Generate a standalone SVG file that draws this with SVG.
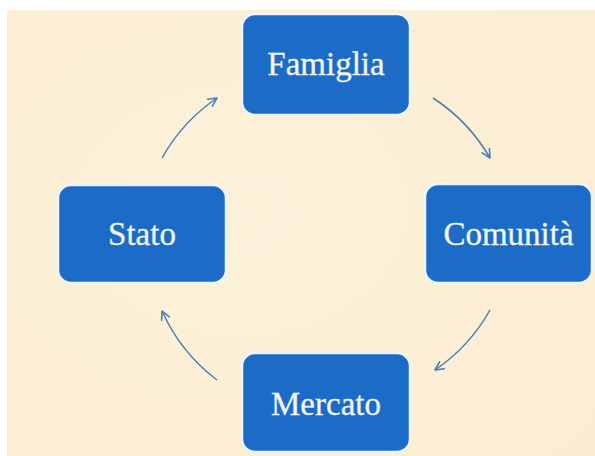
<svg xmlns="http://www.w3.org/2000/svg" width="595" height="456" viewBox="0 0 595 456">
  <defs>
    <radialGradient id="bgA" cx="0.4" cy="0.45" r="0.8">
      <stop offset="0" stop-color="#fcf1da"/>
      <stop offset="1" stop-color="#fbedd1"/>
    </radialGradient>
    <marker id="ah" viewBox="0 0 10 10" refX="9" refY="5" markerWidth="7" markerHeight="7" orient="auto" markerUnits="strokeWidth">
      <path d="M1,1 L9,5 L1,9" fill="none" stroke="#4a7cb8" stroke-width="1.5" stroke-linecap="round" stroke-linejoin="round"/>
    </marker>
  </defs>
  <style>
    .box { fill: #1c6cc7; stroke: #eef4fb; stroke-width: 2.5; }
    .lbl { font-family: "Liberation Serif", "DejaVu Serif", serif; font-size: 33px; fill: #f2f6fa; text-anchor: middle; stroke: #f2f6fa; stroke-width: 0.3; }
    .arr { fill: none; stroke: #4a7cb8; stroke-width: 1.5; marker-end: url(#ah); }
  </style>
  <rect x="0" y="0" width="595" height="456" fill="#ffffff"/>
  <rect x="7" y="10" width="588" height="446" fill="url(#bgA)"/>
  <g id="connectors">
    <path class="arr" d="M162,158 A178,178 0 0 1 217,98"/>
    <path class="arr" d="M433,98 A178,178 0 0 1 490,158"/>
    <path class="arr" d="M490,310 A178,178 0 0 1 435,370"/>
    <path class="arr" d="M217,380 A178,178 0 0 1 162,311"/>
  </g>
  <g id="famiglia">
    <rect class="box" x="242" y="14" width="168" height="101" rx="13"/>
    <text class="lbl" x="326" y="75">Famiglia</text>
  </g>
  <g id="comunita">
    <rect class="box" x="425" y="184" width="167" height="99" rx="13"/>
    <text class="lbl" x="508.5" y="245">Comunità</text>
  </g>
  <g id="mercato">
    <rect class="box" x="242" y="353" width="168" height="99" rx="13"/>
    <text class="lbl" x="326" y="415">Mercato</text>
  </g>
  <g id="stato">
    <rect class="box" x="58" y="185" width="168" height="98" rx="13"/>
    <text class="lbl" x="142" y="245">Stato</text>
  </g>
</svg>
